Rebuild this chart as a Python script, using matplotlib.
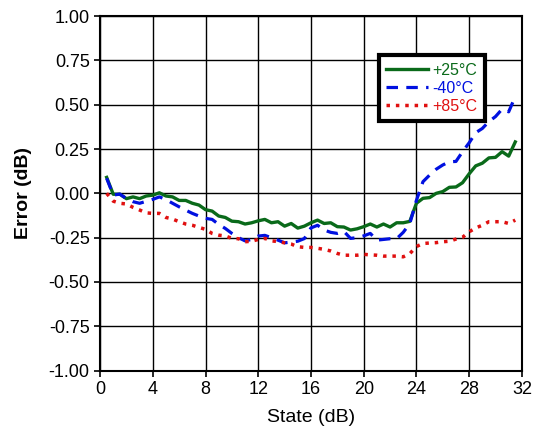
import matplotlib
matplotlib.use("Agg")
import matplotlib.pyplot as plt
from matplotlib.ticker import FormatStrFormatter

plt.rcParams['font.family'] = ['Liberation Sans', 'DejaVu Sans']
plt.rcParams['axes.unicode_minus'] = False

# attenuation state (dB)
state = [0.5, 1.0, 1.5, 2.0, 2.5, 3.0, 3.5, 4.0, 4.5, 5.0, 5.5, 6.0, 6.5, 7.0, 7.5, 8.0,
         8.5, 9.0, 9.5, 10.0, 10.5, 11.0, 11.5, 12.0, 12.5, 13.0, 13.5, 14.0, 14.5, 15.0, 15.5, 16.0,
         16.5, 17.0, 17.5, 18.0, 18.5, 19.0, 19.5, 20.0, 20.5, 21.0, 21.5, 22.0, 22.5, 23.0, 23.5, 24.0,
         24.5, 25.0, 25.5, 26.0, 26.5, 27.0, 27.5, 28.0, 28.5, 29.0, 29.5, 30.0, 30.5, 31.0, 31.5]

# error (dB) at +25C
err_25 = [0.09, -0.005, -0.005, -0.03, -0.02, -0.03, -0.015, -0.01, 0.003, -0.015, -0.02, -0.04, -0.04, -0.056, -0.066, -0.092,
          -0.10, -0.128, -0.136, -0.157, -0.16, -0.173, -0.166, -0.155, -0.147, -0.166, -0.16, -0.185, -0.17, -0.196, -0.185, -0.166,
          -0.151, -0.17, -0.166, -0.188, -0.19, -0.207, -0.20, -0.188, -0.173, -0.19, -0.173, -0.19, -0.166, -0.166, -0.158, -0.056,
          -0.028, -0.024, 0.0, 0.01, 0.034, 0.036, 0.06, 0.11, 0.155, 0.17, 0.20, 0.203, 0.235, 0.21, 0.29]

# error (dB) at -40C
err_m40 = [0.085, -0.01, -0.004, -0.03, -0.047, -0.056, -0.045, -0.034, -0.02, -0.035, -0.056, -0.076, -0.095, -0.113, -0.128, -0.141,
           -0.147, -0.175, -0.198, -0.226, -0.25, -0.268, -0.26, -0.241, -0.237, -0.25, -0.264, -0.279, -0.275, -0.27, -0.255, -0.195,
           -0.18, -0.207, -0.22, -0.226, -0.215, -0.254, -0.25, -0.24, -0.226, -0.264, -0.26, -0.256, -0.256, -0.22, -0.17, -0.04,
           0.066, 0.103, 0.136, 0.16, 0.178, 0.18, 0.235, 0.285, 0.342, 0.366, 0.405, 0.433, 0.475, 0.46, 0.546]

# error (dB) at +85C
err_85 = [0.0, -0.044, -0.056, -0.06, -0.079, -0.094, -0.11, -0.113, -0.113, -0.136, -0.145, -0.16, -0.173, -0.18, -0.192, -0.203,
          -0.226, -0.236, -0.24, -0.254, -0.256, -0.273, -0.27, -0.26, -0.254, -0.268, -0.272, -0.279, -0.286, -0.301, -0.305, -0.305,
          -0.31, -0.316, -0.325, -0.339, -0.349, -0.349, -0.349, -0.344, -0.347, -0.349, -0.354, -0.354, -0.354, -0.358, -0.34, -0.30,
          -0.283, -0.28, -0.278, -0.273, -0.27, -0.258, -0.248, -0.217, -0.195, -0.18, -0.16, -0.16, -0.16, -0.17, -0.151]

fig = plt.figure(figsize=(5.38, 4.34), dpi=100)
ax = fig.add_axes([0.186, 0.146, 0.784, 0.817])

l1, = ax.plot(state, err_25, color='#0a6a1a', lw=2.4, label='+25°C')
l2, = ax.plot(state, err_m40, color='#0010e0', lw=2.3, ls=(0, (3.6, 2.6)), label='-40°C')
l3, = ax.plot(state, err_85, color='#e01010', lw=2.5, ls=(0, (1, 1.7)), label='+85°C')

ax.set_xlim(0, 32)
ax.set_ylim(-1, 1)
ax.set_xticks([0, 4, 8, 12, 16, 20, 24, 28, 32])
ax.set_yticks([-1, -0.75, -0.5, -0.25, 0, 0.25, 0.5, 0.75, 1])
ax.yaxis.set_major_formatter(FormatStrFormatter('%.2f'))
ax.grid(True, color='black', lw=1.0)
ax.set_axisbelow(True)
for s in ax.spines.values():
    s.set_linewidth(1.5)
ax.tick_params(labelsize=13, direction='out', length=4, width=1.2)

ax.set_xlabel('State (dB)', fontsize=14, labelpad=8)
ax.set_ylabel('Error (dB)', fontsize=14, fontweight='bold', labelpad=12)

leg = ax.legend(loc='upper right', bbox_to_anchor=(0.912, 0.889), fontsize=11.5,
                fancybox=False, framealpha=1, edgecolor='black', handlelength=2.6,
                borderpad=0.45, labelspacing=0.2, handletextpad=0.3, borderaxespad=0)
leg.get_frame().set_linewidth(3)
for txt, ln in zip(leg.get_texts(), [l1, l2, l3]):
    txt.set_color(ln.get_color())

fig.savefig('out.png', dpi=100)
